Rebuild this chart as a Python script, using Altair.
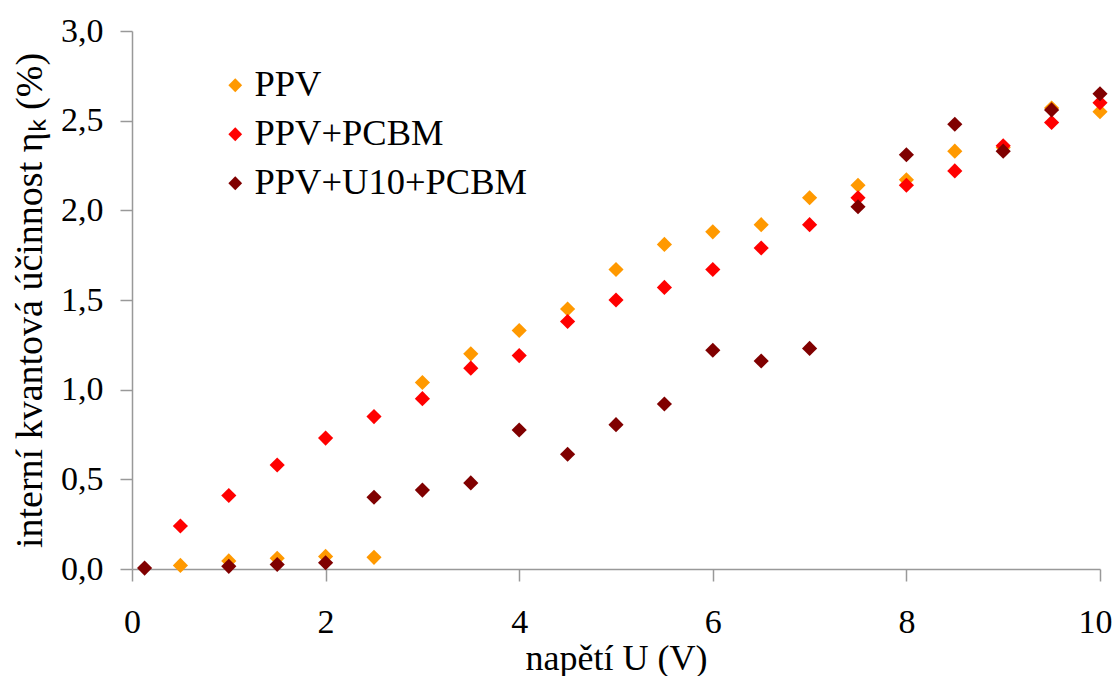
import altair as alt
import pandas as pd

series_names = ["PPV", "PPV+PCBM", "PPV+U10+PCBM"]
series_colors = ["#FF9900", "#FF0000", "#800000"]

u_ppv = [0.5, 1, 1.5, 2, 2.5, 3, 3.5, 4, 4.5, 5, 5.5, 6, 6.5, 7, 7.5, 8, 8.5, 9, 9.5, 10]
eta_ppv = [0.02, 0.045, 0.06, 0.07, 0.065, 1.04, 1.20, 1.33, 1.45, 1.67, 1.81, 1.88, 1.92, 2.07, 2.14, 2.17, 2.33, 2.35, 2.57, 2.55]

u_pcbm = [0.5, 1, 1.5, 2, 2.5, 3, 3.5, 4, 4.5, 5, 5.5, 6, 6.5, 7, 7.5, 8, 8.5, 9, 9.5, 10]
eta_pcbm = [0.24, 0.41, 0.58, 0.73, 0.85, 0.95, 1.12, 1.19, 1.38, 1.50, 1.57, 1.67, 1.79, 1.92, 2.07, 2.14, 2.22, 2.36, 2.49, 2.60]

u_u10 = [0.13, 1, 1.5, 2, 2.5, 3, 3.5, 4, 4.5, 5, 5.5, 6, 6.5, 7, 7.5, 8, 8.5, 9, 9.5, 10]
eta_u10 = [0.005, 0.015, 0.025, 0.035, 0.40, 0.44, 0.48, 0.775, 0.64, 0.805, 0.92, 1.22, 1.16, 1.23, 2.02, 2.31, 2.48, 2.33, 2.56, 2.65]

x_ticks = [0, 2, 4, 6, 8, 10]
y_ticks = [0, 0.5, 1.0, 1.5, 2.0, 2.5, 3.0]

rows = []
for name, us, es in zip(series_names, [u_ppv, u_pcbm, u_u10], [eta_ppv, eta_pcbm, eta_u10]):
    for u, e in zip(us, es):
        rows.append({"U": u, "eta": e, "serie": name})
df = pd.DataFrame(rows)

FONT = "Liberation Serif"

chart = alt.Chart(df).mark_point(
    shape="diamond", filled=True, opacity=1, size=230
).encode(
    x=alt.X("U:Q",
            scale=alt.Scale(domain=[0, 10], nice=False, zero=False),
            axis=alt.Axis(values=x_ticks, title="napětí U (V)", grid=False,
                          labelFont=FONT, titleFont=FONT,
                          labelFontSize=34, titleFontSize=36, labelPadding=24,
                          labelOffset={"condition": {"test": "datum.value == 10", "value": -5}, "value": 0},
                          titleY=100, titleBaseline="alphabetic",
                          tickSize=12, labelFlush=False)),
    y=alt.Y("eta:Q",
            scale=alt.Scale(domain=[0, 3], nice=False),
            axis=alt.Axis(values=y_ticks, title="interní kvantová účinnost ηₖ (%)", grid=False,
                          labelFont=FONT, titleFont=FONT,
                          labelFontSize=34, titleFontSize=38, labelPadding=17,
                          labelExpr="replace(format(datum.value, '.1f'), '.', ',')",
                          titleX=-91, titleBaseline="alphabetic",
                          tickSize=12, labelFlush=False)),
    color=alt.Color("serie:N",
                    scale=alt.Scale(domain=series_names, range=series_colors),
                    legend=alt.Legend(title=None, orient="none", legendX=85, legendY=36,
                                      labelFont=FONT,
                                      labelFontSize=36.5, symbolSize=190, symbolType="diamond",
                                      labelOffset=1, rowPadding=12, padding=0,
                                      labelLimit=600, symbolStrokeWidth=0)),
    order=alt.Order("idx:Q")
).transform_calculate(
    idx="indexof(['PPV','PPV+PCBM','PPV+U10+PCBM'], datum.serie)"
).properties(
    width=968, height=538,
    autosize=alt.AutoSizeParams(type="none"),
    padding={"left": 124, "top": 23, "right": 12, "bottom": 107}
).configure_axis(
    labelColor="black", titleColor="black",
    titleFontWeight="normal", domainColor="#999999", tickColor="#999999",
    domainWidth=1.5, tickWidth=1.5
).configure_legend(
    labelColor="black"
).configure_view(
    strokeWidth=0
)

chart.save("out.html", embed_options={"renderer": "svg", "actions": False})
